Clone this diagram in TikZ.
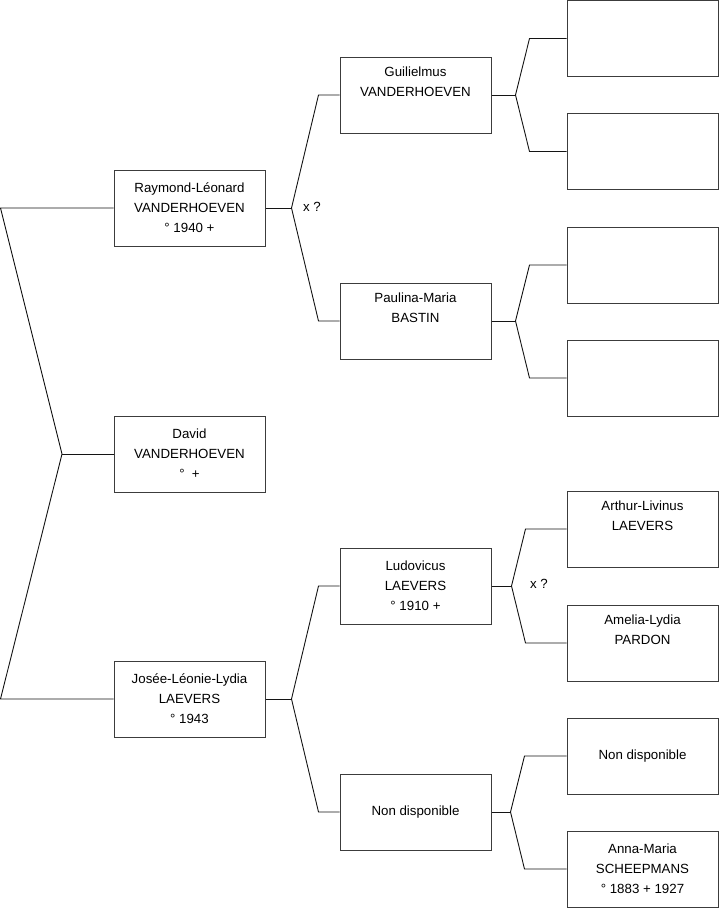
\documentclass[tikz,border=0pt]{standalone}
\usepackage{fontspec}
\setmainfont{Liberation Sans}
\usepackage{tikz}
\usetikzlibrary{positioning,calc}
\definecolor{ink}{RGB}{0,0,0}
\definecolor{boxline}{RGB}{60,60,60}
\definecolor{linkline}{RGB}{20,20,20}
\tikzset{
  person/.style={draw=boxline,line width=1pt,fill=white,
    minimum width=151pt,minimum height=76pt,inner sep=0pt,align=center,
    font=\fontsize{13.3}{20}\selectfont,text=ink},
  link/.style={linkline,line width=0.9pt},
  marr/.style={font=\fontsize{13.3}{15}\selectfont,text=ink}
}
\begin{document}
\begin{tikzpicture}[x=1pt,y=-1pt]
  \useasboundingbox (0,0) rectangle (719,908);
  % generation 1
  \node[person] (raymond) at (189.5,208) {Raymond-Léonard\\VANDERHOEVEN\\° 1940 +};
  \node[person] (david) at (189.5,454) {David\\VANDERHOEVEN\\°\ \ +};
  \node[person] (josee) at (189.5,699) {Josée-Léonie-Lydia\\LAEVERS\\° 1943};
  % generation 2
  \node[person] (guilielmus) at (415.5,95) {Guilielmus\\VANDERHOEVEN\\\strut};
  \node[person] (paulina) at (415.5,321) {Paulina-Maria\\BASTIN\\\strut};
  \node[person] (ludovicus) at (415.5,586) {Ludovicus\\LAEVERS\\° 1910 +};
  \node[person] (nondispA) at (415.5,812) {Non disponible};
  % generation 3
  \node[person] (ggA) at (642.5,38.5) {};
  \node[person] (ggB) at (642.5,151.5) {};
  \node[person] (ggC) at (642.5,265) {};
  \node[person] (ggD) at (642.5,378) {};
  \node[person] (arthur) at (642.5,529) {Arthur-Livinus\\LAEVERS\\\strut};
  \node[person] (amelia) at (642.5,643) {Amelia-Lydia\\PARDON\\\strut};
  \node[person] (nondispB) at (642.5,756) {Non disponible};
  \node[person] (anna) at (642.5,869) {Anna-Maria\\SCHEEPMANS\\° 1883 + 1927};

  % root bracket
  \coordinate (lft) at (0.5,0);
  \coordinate (root) at (62,454);
  \draw[link] (raymond.west) -- (raymond.west -| lft) -- (root)
    -- (josee.west -| lft) -- (josee.west);
  \draw[link] (root) -- (david.west);

  % parent brackets
  \foreach \c/\f/\m/\dx/\dy in {raymond/guilielmus/paulina/26/27,
      josee/ludovicus/nondispA/26/27,
      guilielmus/ggA/ggB/24/14,
      paulina/ggC/ggD/24/14,
      ludovicus/arthur/amelia/20/14,
      nondispA/nondispB/anna/19/14} {
    \coordinate (\c-b) at ($(\c.east)+(\dx,0)$);
    \draw[link] (\c.east) -- (\c-b);
    \draw[link] (\f.west) -- ([xshift=\dy pt]\f.west -| \c-b) -- (\c-b)
      -- ([xshift=\dy pt]\m.west -| \c-b) -- (\m.west);
  }

  \node[marr] (xA) at (312,207) {x ?};
  \node[marr] (xB) at (539,584) {x ?};
\end{tikzpicture}
\end{document}
